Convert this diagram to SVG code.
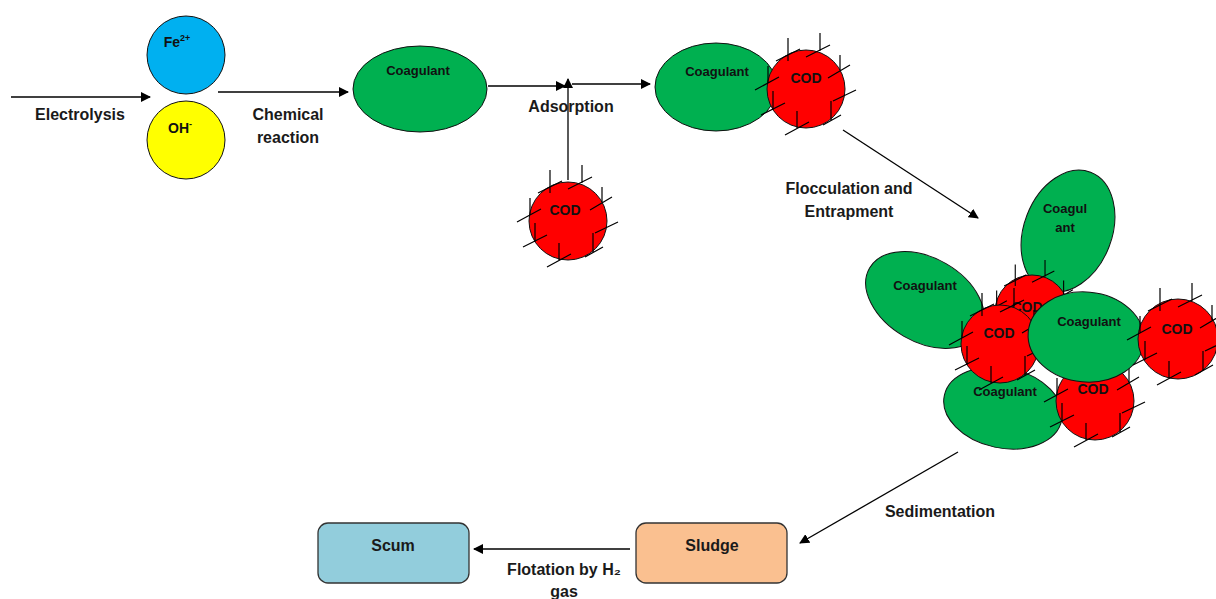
<svg xmlns="http://www.w3.org/2000/svg" xmlns:xlink="http://www.w3.org/1999/xlink" width="1216" height="599" viewBox="0 0 1216 599">
<style>
.lbl{font-family:"Liberation Sans",Arial,sans-serif;font-weight:bold;font-size:16px;fill:#1a1a1a;text-anchor:middle}
.nl{font-family:"Liberation Sans",Arial,sans-serif;font-weight:bold;font-size:13px;fill:#111;text-anchor:middle}
.cl{font-family:"Liberation Sans",Arial,sans-serif;font-weight:bold;font-size:14px;fill:#111;text-anchor:middle}
.green{fill:#00B050;stroke:#111;stroke-width:1}
.red{fill:#FF0000;stroke:#111;stroke-width:1}
.hair{fill:none;stroke:#000;stroke-width:1.2}
.conn{stroke:#000;stroke-width:1.3;fill:none}
.box{stroke:#333;stroke-width:1.3}
</style>
<defs>
<marker id="ah" viewBox="0 0 10 10" refX="9" refY="5" markerWidth="10" markerHeight="10" markerUnits="userSpaceOnUse" orient="auto">
<path d="M0,0L10,5L0,10z" fill="#000"/>
</marker>
<path id="hairs" class="hair" d="M-18,-51V-28M-30,-28L-6,-40M14,-56V-38M0,-32L24,-44M34,-34V-19M22,-11L44,-24M-38,-23V-6M-51,1L-27,-12M-33,2V21M-45,26L-21,14M-9,22V39M-21,46L3,33M25,12V32M27,12L50,1M17,36L35,26"/>
</defs>

<g id="connectors">
<line class="conn" x1="11" y1="97" x2="150" y2="97" marker-end="url(#ah)"/>
<line class="conn" x1="218" y1="92" x2="348" y2="92" marker-end="url(#ah)"/>
<line class="conn" x1="488" y1="86" x2="565" y2="86" marker-end="url(#ah)"/>
<line class="conn" x1="572" y1="84" x2="650" y2="84" marker-end="url(#ah)"/>
<line class="conn" x1="568" y1="180" x2="568" y2="79" marker-end="url(#ah)"/>
<line class="conn" x1="843" y1="130" x2="978" y2="218" marker-end="url(#ah)"/>
<line class="conn" x1="958" y1="452" x2="800" y2="543" marker-end="url(#ah)"/>
<line class="conn" x1="630" y1="549" x2="474" y2="549" marker-end="url(#ah)"/>
</g>

<g id="labels">
<text class="lbl" x="80" y="120">Electrolysis</text>
<text class="lbl" x="288" y="120">Chemical</text>
<text class="lbl" x="288" y="143">reaction</text>
<text class="lbl" x="571" y="112">Adsorption</text>
<text class="lbl" x="849" y="194">Flocculation and</text>
<text class="lbl" x="849" y="217">Entrapment</text>
<text class="lbl" x="940" y="517">Sedimentation</text>
<text class="lbl" x="564" y="575">Flotation by H₂</text>
<text class="lbl" x="564" y="597">gas</text>
</g>

<g id="fe">
<circle cx="186" cy="55" r="39" fill="#00B0F0" stroke="#111" stroke-width="1"/>
<text class="cl" x="177" y="47">Fe<tspan font-size="9" dy="-6">2+</tspan></text>
</g>
<g id="oh">
<circle cx="186" cy="140" r="39" fill="#FFFF00" stroke="#111" stroke-width="1"/>
<text class="cl" x="180" y="133">OH<tspan font-size="9" dy="-6">-</tspan></text>
</g>

<g id="coagulant1">
<ellipse class="green" cx="420" cy="89" rx="67" ry="43"/>
<text class="nl" x="418" y="75">Coagulant</text>
</g>

<g id="cod1">
<circle class="red" cx="568" cy="221" r="39"/>
<use xlink:href="#hairs" transform="translate(568,221)"/>
<text class="cl" x="565" y="215">COD</text>
</g>

<g id="complex">
<ellipse class="green" cx="716" cy="87" rx="61" ry="44"/>
<text class="nl" x="717" y="76">Coagulant</text>
<circle class="red" cx="806" cy="89" r="39"/>
<use xlink:href="#hairs" transform="translate(806,89)"/>
<text class="cl" x="806" y="83">COD</text>
</g>

<g id="floc">
<ellipse class="green" cx="1068" cy="231" rx="44" ry="63" transform="rotate(21 1068 231)"/>
<text class="nl" x="1065" y="213">Coagul</text>
<text class="nl" x="1065" y="232">ant</text>
<ellipse class="green" cx="925" cy="300" rx="64" ry="42" transform="rotate(30 925 300)"/>
<text class="nl" x="925" y="290">Coagulant</text>
<circle class="red" cx="1032" cy="312" r="37"/>
<use xlink:href="#hairs" transform="translate(1032,312) scale(0.93)"/>
<text class="cl" x="1027" y="312">COD</text>
<ellipse class="green" cx="1003" cy="408" rx="60" ry="40" transform="rotate(12 1003 408)"/>
<circle class="red" cx="1000" cy="344" r="39"/>
<use xlink:href="#hairs" transform="translate(1000,344)"/>
<text class="cl" x="999" y="338">COD</text>
<text class="nl" x="1005" y="396">Coagulant</text>
<circle class="red" cx="1095" cy="401" r="39"/>
<use xlink:href="#hairs" transform="translate(1095,401)"/>
<text class="cl" x="1093" y="394">COD</text>
<ellipse class="green" cx="1086" cy="337" rx="58" ry="45" transform="rotate(5 1086 337)"/>
<text class="nl" x="1089" y="326">Coagulant</text>
<circle class="red" cx="1178" cy="339" r="40"/>
<use xlink:href="#hairs" transform="translate(1178,339)"/>
<text class="cl" x="1177" y="334">COD</text>
</g>

<g id="scum">
<rect class="box" x="318" y="523" width="151" height="60" rx="10" fill="#92CDDC"/>
<text class="lbl" x="393" y="551">Scum</text>
</g>
<g id="sludge">
<rect class="box" x="636" y="523" width="151" height="60" rx="10" fill="#FAC090"/>
<text class="lbl" x="712" y="551">Sludge</text>
</g>
</svg>
